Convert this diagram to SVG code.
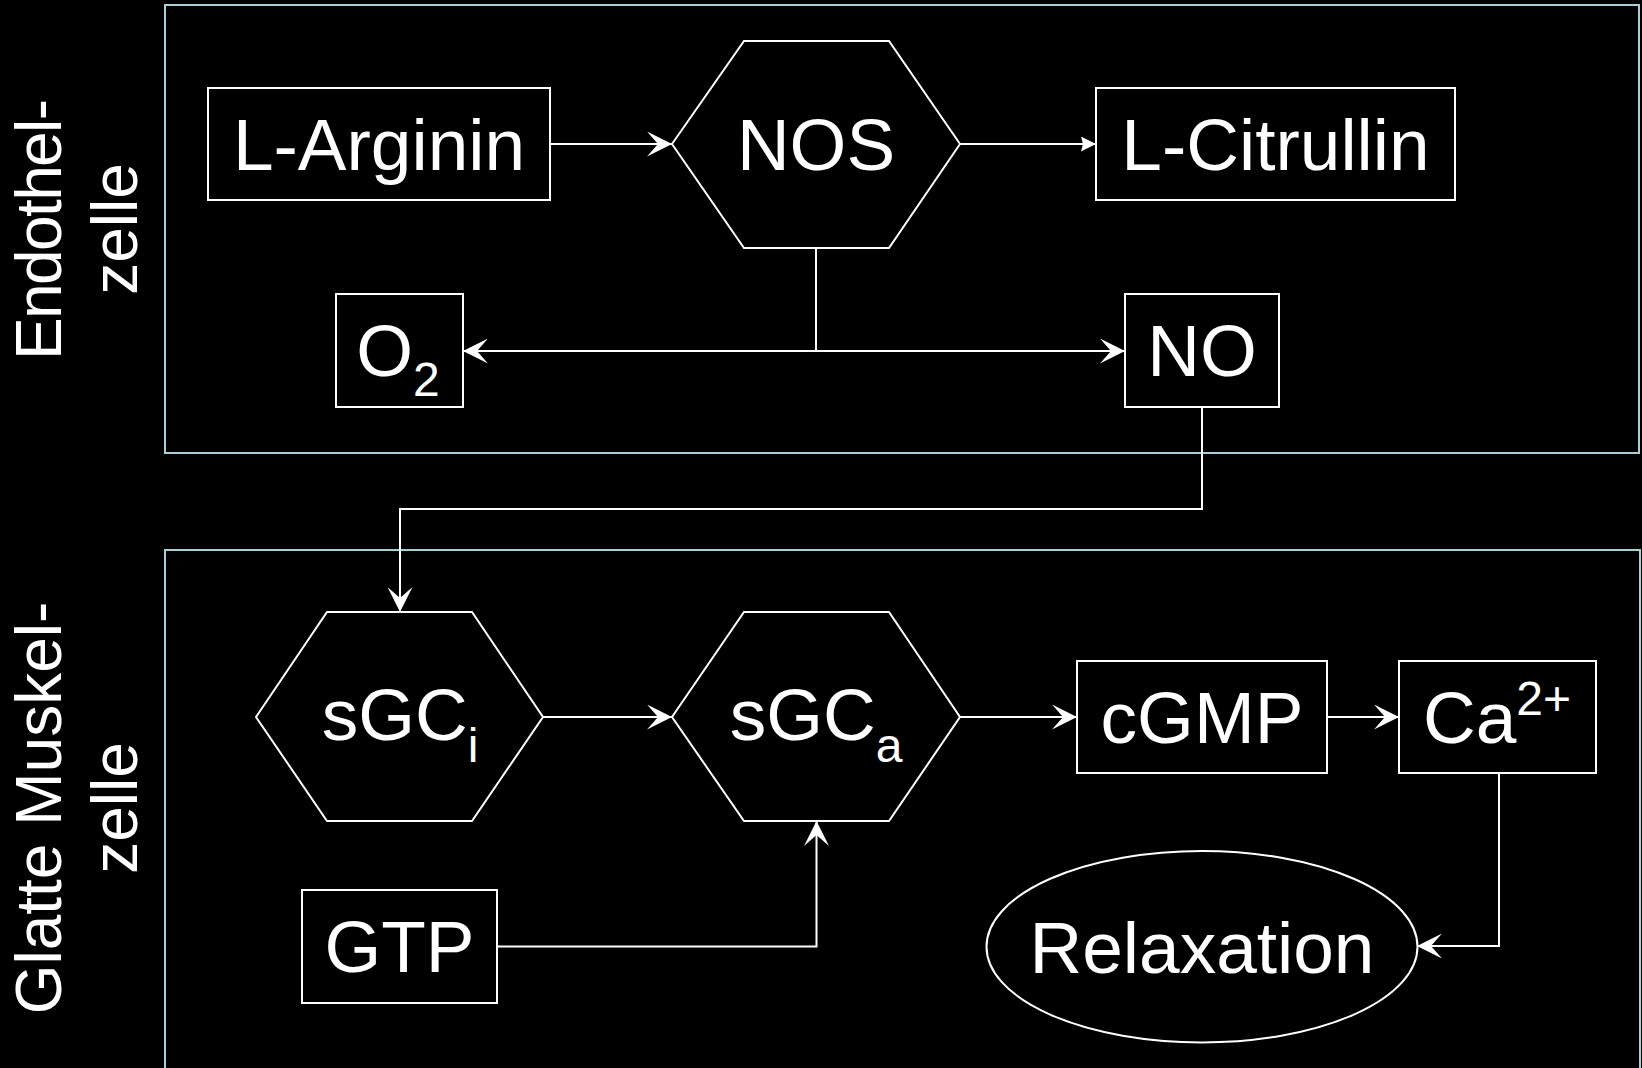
<svg xmlns="http://www.w3.org/2000/svg" width="1642" height="1068" viewBox="0 0 1642 1068">
  <style>
    .node { fill: #000; stroke: #fff; stroke-width: 2; }
    .lbl { fill: #fff; font-family: "Liberation Sans", Arial, sans-serif; font-size: 73px; text-anchor: middle; }
    .side { fill: #fff; font-family: "Liberation Sans", Arial, sans-serif; font-size: 64px; text-anchor: middle; }
    .cell { fill: none; stroke: #a9cfd6; stroke-width: 2; }
    .conn { fill: none; stroke: #fff; stroke-width: 2; }
  </style>
  <defs>
    <marker id="arr" viewBox="0 0 25 25" refX="25" refY="12.5" markerWidth="25" markerHeight="25" markerUnits="userSpaceOnUse" orient="auto">
      <path d="M0,0 L25,12.5 L0,25 L11,12.5 Z" fill="#fff"/>
    </marker>
    <marker id="arrs" viewBox="0 0 15 15" refX="15" refY="7.5" markerWidth="15" markerHeight="15" markerUnits="userSpaceOnUse" orient="auto">
      <path d="M0,0 L15,7.5 L0,15 L2,7.5 Z" fill="#fff"/>
    </marker>
  </defs>
  <rect x="0" y="0" width="1642" height="1068" fill="#000"/>

  <g id="cells">
    <rect class="cell" x="165" y="5" width="1474" height="448"/>
    <rect class="cell" x="165" y="550" width="1475" height="530"/>
    <text class="side" transform="translate(61,229.5) rotate(-90)" textLength="261">Endothel-</text>
    <text class="side" transform="translate(137,229) rotate(-90)">zelle</text>
    <text class="side" transform="translate(61,808) rotate(-90)">Glatte Muskel-</text>
    <text class="side" transform="translate(137,808) rotate(-90)">zelle</text>
  </g>

  <g id="connectors">
    <path class="conn" d="M550,144 H672" marker-end="url(#arr)"/>
    <path class="conn" d="M960,144 H1096" marker-end="url(#arrs)"/>
    <path class="conn" d="M816,248 V351"/>
    <path class="conn" d="M816,351 H463" marker-end="url(#arr)"/>
    <path class="conn" d="M816,351 H1125" marker-end="url(#arr)"/>
    <path class="conn" d="M1202,407 V509 H400 V612" marker-end="url(#arr)"/>
    <path class="conn" d="M543,717 H672" marker-end="url(#arr)"/>
    <path class="conn" d="M960,717 H1077" marker-end="url(#arr)"/>
    <path class="conn" d="M1327,717 H1399" marker-end="url(#arr)"/>
    <path class="conn" d="M497,946.5 H816.5 V821" marker-end="url(#arr)"/>
    <path class="conn" d="M1499,773 V946 H1417" marker-end="url(#arr)"/>
  </g>

  <g id="node-larginin">
    <rect class="node" x="208" y="88" width="342" height="112"/>
    <text class="lbl" x="379" y="170">L-Arginin</text>
  </g>
  <g id="node-nos">
    <polygon class="node" points="672,144 744,41 889,41 960,144 889,248 744,248"/>
    <text class="lbl" x="816" y="170">NOS</text>
  </g>
  <g id="node-lcitrullin">
    <rect class="node" x="1096" y="88" width="359" height="112"/>
    <text class="lbl" x="1275.5" y="170">L-Citrullin</text>
  </g>
  <g id="node-o2">
    <rect class="node" x="336" y="294" width="127" height="113"/>
    <text class="lbl" x="398" y="376">O<tspan font-size="48" dy="20">2</tspan></text>
  </g>
  <g id="node-no">
    <rect class="node" x="1125" y="294" width="154" height="113"/>
    <text class="lbl" x="1202" y="376">NO</text>
  </g>
  <g id="node-sgci">
    <polygon class="node" points="256,717 327,612 472,612 543,717 472,821 327,821"/>
    <text class="lbl" x="400" y="740">sGC<tspan font-size="48" dy="22">i</tspan></text>
  </g>
  <g id="node-sgca">
    <polygon class="node" points="672,717 744,612 889,612 960,717 889,821 744,821"/>
    <text class="lbl" x="816" y="740">sGC<tspan font-size="48" dy="22">a</tspan></text>
  </g>
  <g id="node-cgmp">
    <rect class="node" x="1077" y="661" width="250" height="112"/>
    <text class="lbl" x="1202" y="743">cGMP</text>
  </g>
  <g id="node-ca">
    <rect class="node" x="1399" y="661" width="197" height="112"/>
    <text class="lbl" x="1497" y="743">Ca<tspan font-size="48" dy="-28">2+</tspan></text>
  </g>
  <g id="node-gtp">
    <rect class="node" x="302" y="890" width="195" height="113"/>
    <text class="lbl" x="399.5" y="972">GTP</text>
  </g>
  <g id="node-relaxation">
    <ellipse class="node" cx="1202" cy="946.7" rx="215.5" ry="95.7"/>
    <text class="lbl" x="1202" y="973">Relaxation</text>
  </g>
</svg>
